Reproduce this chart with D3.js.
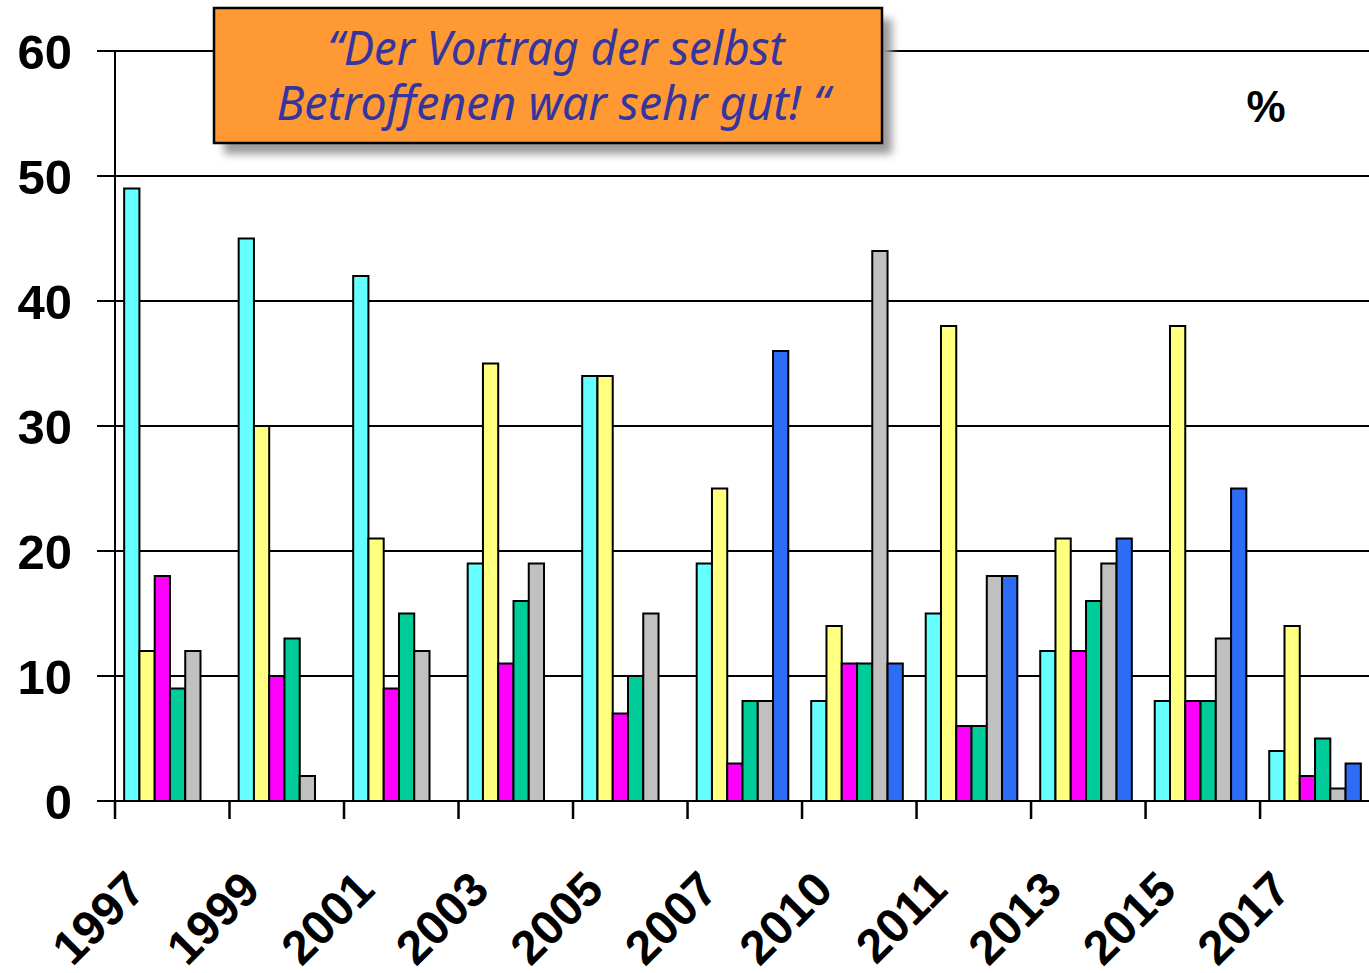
<!DOCTYPE html>
<html>
<head>
<meta charset="utf-8">
<script src="https://cdn.jsdelivr.net/npm/d3@7"></script>
<style>
  body { margin: 0; background: #fff; }
</style>
</head>
<body>
<script>
var w = 1369;
var h = 973;

var years = ["1997", "1999", "2001", "2003", "2005", "2007", "2010", "2011", "2013", "2015", "2017"];
var seriesNames = ["s1", "s2", "s3", "s4", "s5", "s6"];
var seriesColours = ["#66FFFF", "#FFFF80", "#FF00FF", "#00CC99", "#C0C0C0", "#2D6DF6"];

// values per series, one per year (null = no bar)
var s1 = [49, 45, 42, 19, 34, 19, 8, 15, 12, 8, 4];
var s2 = [12, 30, 21, 35, 34, 25, 14, 38, 21, 38, 14];
var s3 = [18, 10, 9, 11, 7, 3, 11, 6, 12, 8, 2];
var s4 = [9, 13, 15, 16, 10, 8, 11, 6, 16, 8, 5];
var s5 = [12, 2, 12, 19, 15, 8, 44, 18, 19, 13, 1];
var s6 = [null, null, null, null, null, 36, 11, 18, 21, 25, 3];
var yTicks = [0, 10, 20, 30, 40, 50, 60];

var titleLines = ["\u201CDer Vortrag der selbst", "Betroffenen war sehr gut!  \u201C"];

var allSeries = [s1, s2, s3, s4, s5, s6];

var svg = d3.select("body").append("svg")
    .attr("width", w)
    .attr("height", h);

var plotLeft = 115, plotRight = 1370, plotTop = 51, plotBottom = 801;

var x0 = d3.scaleBand()
    .domain(years)
    .range([plotLeft, plotRight])
    .paddingInner(0.2)
    .paddingOuter(0.08);

var x1 = d3.scaleBand()
    .domain(seriesNames)
    .range([0, x0.bandwidth()]);

var y = d3.scaleLinear()
    .domain([0, 60])
    .range([plotBottom, plotTop]);

// gridlines
svg.selectAll(".grid")
    .data(yTicks)
    .enter()
    .append("line")
    .attr("x1", 97)
    .attr("x2", w)
    .attr("y1", function(d){ return y(d); })
    .attr("y2", function(d){ return y(d); })
    .style("stroke", "#000")
    .style("stroke-width", 2);

// y labels
svg.selectAll(".ylab")
    .data(yTicks)
    .enter()
    .append("text")
    .attr("x", 72)
    .attr("y", function(d){ return y(d) + 18; })
    .attr("text-anchor", "end")
    .style("font-family", "'Liberation Sans', Arial, sans-serif")
    .style("font-weight", "bold")
    .style("font-size", "49px")
    .text(function(d){ return d; });

// bars
var rows = [];
years.forEach(function(yr, i){
    allSeries.forEach(function(s, j){
        if (s[i] != null) rows.push({ year: yr, key: seriesNames[j], value: s[i], colour: seriesColours[j] });
    });
});

svg.selectAll(".bar")
    .data(rows)
    .enter()
    .append("rect")
    .attr("x", function(d){ return x0(d.year) + x1(d.key); })
    .attr("y", function(d){ return y(d.value); })
    .attr("width", x1.bandwidth())
    .attr("height", function(d){ return y(0) - y(d.value); })
    .style("fill", function(d){ return d.colour; })
    .style("stroke", "#000")
    .style("stroke-width", 2);

// axes
svg.append("line")
    .attr("x1", plotLeft).attr("x2", plotLeft)
    .attr("y1", plotTop).attr("y2", plotBottom + 18)
    .style("stroke", "#000").style("stroke-width", 2);

svg.append("line")
    .attr("x1", 97).attr("x2", w)
    .attr("y1", plotBottom).attr("y2", plotBottom)
    .style("stroke", "#000").style("stroke-width", 2);

var step = x0.step();
svg.selectAll(".xtick")
    .data(years)
    .enter()
    .append("line")
    .attr("x1", function(d, i){ return plotLeft + i * step; })
    .attr("x2", function(d, i){ return plotLeft + i * step; })
    .attr("y1", plotBottom)
    .attr("y2", plotBottom + 18)
    .style("stroke", "#000")
    .style("stroke-width", 2.5);

svg.selectAll(".xlab")
    .data(years)
    .enter()
    .append("text")
    .attr("transform", function(d){
        var px = x0(d) + x0.bandwidth() / 2 - 22;
        return "translate(" + px + ",892) rotate(-45)";
    })
    .attr("text-anchor", "end")
    .style("font-family", "'Liberation Sans', Arial, sans-serif")
    .style("font-weight", "bold")
    .style("font-size", "48px")
    .text(function(d){ return d; });

// percent sign
svg.append("text")
    .attr("x", 1266)
    .attr("y", 122)
    .attr("text-anchor", "middle")
    .style("font-family", "'Liberation Sans', Arial, sans-serif")
    .style("font-weight", "bold")
    .style("font-size", "44px")
    .text("%");

// quote box with shadow
var defs = svg.append("defs");
var blur = defs.append("filter").attr("id", "shadow")
    .attr("x", "-10%").attr("y", "-10%").attr("width", "130%").attr("height", "150%");
blur.append("feGaussianBlur").attr("stdDeviation", 4);

svg.append("rect")
    .attr("x", 224).attr("y", 19)
    .attr("width", 668).attr("height", 135)
    .style("fill", "#9a9a9a")
    .attr("filter", "url(#shadow)");

svg.append("rect")
    .attr("x", 214).attr("y", 8)
    .attr("width", 668).attr("height", 135)
    .style("fill", "#FF9933")
    .style("stroke", "#000")
    .style("stroke-width", 2.5);

var lineX = [556, 553];
var lineY = [65, 120];
var lineLen = [457, 553];
svg.selectAll(".title")
    .data(titleLines)
    .enter()
    .append("text")
    .attr("x", function(d, i){ return lineX[i]; })
    .attr("y", function(d, i){ return lineY[i]; })
    .attr("text-anchor", "middle")
    .attr("textLength", function(d, i){ return lineLen[i]; })
    .attr("lengthAdjust", "spacingAndGlyphs")
    .style("font-family", "'Noto Sans', sans-serif")
    .style("font-style", "italic")
    .style("font-size", "48px")
    .style("fill", "#3535A0")
    .text(function(d){ return d; });
</script>
</body>
</html>
